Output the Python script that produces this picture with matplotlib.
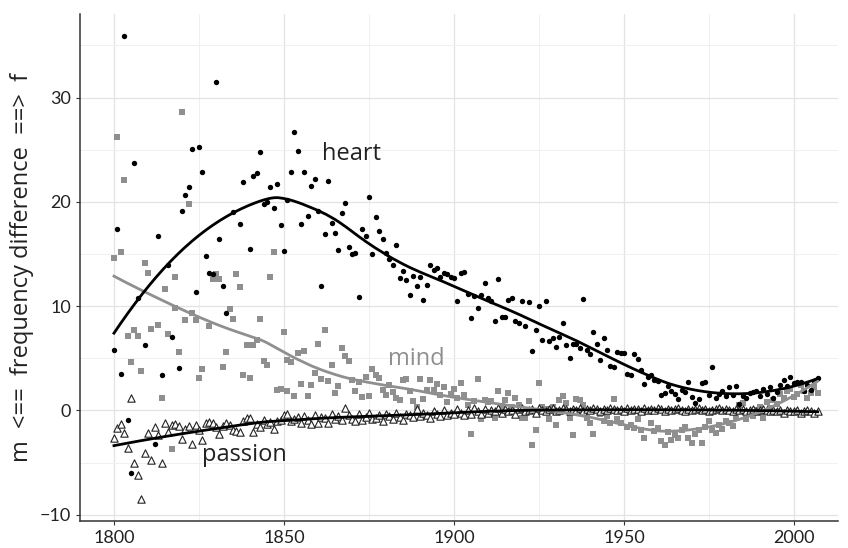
import numpy as np
import matplotlib
matplotlib.use("Agg")
import matplotlib.pyplot as plt
from matplotlib.ticker import MultipleLocator

# yearly values (some years have no visible dot)
heart_years = [1800, 1801, 1802, 1803, 1804, 1805, 1806, 1807, 1809, 1812, 1813, 1814, 1816, 1817, 1819,
               1820, 1821, 1822, 1823, 1824, 1825, 1826, 1827, 1828, 1829, 1830, 1831, 1832, 1833, 1835,
               1837, 1838, 1840, 1841, 1842, 1843, 1844, 1845, 1846, 1847, 1848, 1849, 1850, 1851, 1852,
               1853, 1854, 1855, 1856, 1857, 1858, 1859, 1860, 1861, 1862, 1863, 1864, 1865, 1866, 1867,
               1868, 1869, 1870, 1871, 1872, 1873, 1874, 1875, 1876, 1877, 1878, 1879, 1880, 1881, 1882,
               1883, 1884, 1885, 1886, 1887, 1888, 1889, 1890, 1891, 1892, 1893, 1894, 1895, 1896, 1897,
               1898, 1899, 1900, 1901, 1902, 1903, 1904, 1905, 1906, 1907, 1908, 1909, 1910, 1911, 1912,
               1913, 1914, 1915, 1916, 1917, 1918, 1919, 1920, 1921, 1922, 1923, 1924, 1925, 1926, 1927,
               1928, 1929, 1930, 1931, 1932, 1933, 1934, 1935, 1936, 1937, 1938, 1939, 1940, 1941, 1942,
               1943, 1944, 1945, 1946, 1947, 1948, 1949, 1950, 1951, 1952, 1953, 1954, 1955, 1956, 1957,
               1958, 1959, 1960, 1961, 1962, 1963, 1964, 1965, 1966, 1967, 1968, 1969, 1970, 1971, 1972,
               1973, 1974, 1975, 1976, 1977, 1978, 1979, 1980, 1981, 1982, 1983, 1984, 1985, 1986, 1987,
               1988, 1989, 1990, 1991, 1992, 1993, 1994, 1995, 1996, 1997, 1998, 1999, 2000, 2001, 2002,
               2003, 2004, 2005, 2006, 2007]
heart_vals = [5.8, 17.4, 3.5, 35.9, -0.9, -6.0, 23.7, 10.8, 6.3, -3.2, 16.7, 3.4, 13.9, 7.0, 4.1,
              19.1, 20.7, 21.4, 25.1, 11.4, 25.3, 22.9, 14.8, 13.2, 13.1, 31.5, 16.4, 11.9, 9.3, 19.0,
              17.9, 21.9, 15.5, 22.5, 22.8, 24.8, 19.8, 20.0, 21.4, 19.4, 21.7, 17.8, 15.3, 20.2, 22.9,
              26.7, 24.9, 17.9, 22.9, 18.6, 21.5, 22.2, 19.1, 11.9, 16.9, 22.0, 18.0, 17.0, 15.4, 18.9,
              19.9, 15.7, 15.0, 15.1, 10.9, 17.4, 16.7, 20.5, 15.0, 18.5, 17.2, 16.4, 15.1, 14.5, 13.9,
              15.9, 12.7, 13.4, 12.5, 11.1, 12.9, 11.9, 12.8, 10.6, 12.0, 13.9, 13.5, 13.7, 12.8, 13.2,
              13.1, 12.8, 12.7, 10.5, 13.2, 13.3, 11.2, 8.9, 11.0, 9.8, 11.1, 12.2, 10.8, 10.5, 8.6,
              12.6, 9.0, 9.0, 10.6, 10.8, 8.6, 8.4, 10.5, 8.1, 10.4, 5.7, 7.7, 10.0, 6.8, 10.5,
              6.7, 6.9, 6.1, 7.0, 8.4, 6.3, 5.0, 6.4, 6.4, 6.0, 10.7, 5.8, 5.4, 7.5, 6.4,
              4.8, 6.9, 5.8, 4.3, 4.2, 5.6, 5.5, 5.5, 3.5, 3.4, 5.4, 4.9, 3.9, 2.5, 3.2,
              3.4, 2.9, 2.8, 1.5, 1.7, 2.3, 1.9, 1.6, 1.1, 2.0, 1.8, 2.7, 1.3, 0.7, 1.1,
              2.6, 2.7, 1.5, 4.2, 1.2, 1.6, 1.9, 1.4, 2.2, 1.5, 2.3, 0.6, 1.4, 1.2, 1.7,
              1.8, 1.9, 1.4, 2.1, 1.6, 2.2, 1.2, 1.8, 2.4, 2.9, 2.3, 3.2, 2.6, 2.7, 2.7,
              1.9, 2.4, 2.0, 2.8, 3.1]

mind_years = [1800, 1801, 1802, 1803, 1804, 1805, 1806, 1807, 1808, 1809, 1810, 1811, 1813, 1814, 1815,
              1816, 1817, 1818, 1818, 1819, 1820, 1821, 1822, 1823, 1824, 1825, 1826, 1828, 1829, 1830,
              1831, 1832, 1833, 1834, 1835, 1836, 1837, 1838, 1839, 1840, 1841, 1842, 1843, 1844, 1845,
              1846, 1847, 1848, 1849, 1850, 1851, 1851, 1852, 1853, 1854, 1855, 1856, 1857, 1858, 1859,
              1860, 1861, 1862, 1863, 1864, 1865, 1866, 1867, 1868, 1869, 1870, 1871, 1872, 1873, 1874,
              1875, 1876, 1877, 1878, 1879, 1880, 1881, 1882, 1883, 1884, 1885, 1886, 1887, 1888, 1889,
              1890, 1891, 1892, 1893, 1894, 1895, 1896, 1897, 1898, 1899, 1900, 1901, 1902, 1903, 1904,
              1905, 1906, 1907, 1908, 1909, 1910, 1911, 1912, 1913, 1914, 1915, 1916, 1917, 1918, 1919,
              1920, 1921, 1922, 1923, 1924, 1925, 1926, 1927, 1928, 1929, 1930, 1931, 1932, 1933, 1934,
              1935, 1936, 1937, 1938, 1939, 1940, 1941, 1943, 1944, 1945, 1946, 1947, 1948, 1949, 1951,
              1952, 1953, 1954, 1955, 1956, 1958, 1959, 1960, 1961, 1962, 1963, 1964, 1965, 1966, 1967,
              1968, 1969, 1970, 1971, 1972, 1973, 1974, 1975, 1976, 1977, 1978, 1979, 1980, 1981, 1982,
              1983, 1984, 1985, 1986, 1987, 1988, 1989, 1990, 1991, 1992, 1993, 1994, 1995, 1996, 1997,
              1998, 1999, 2000, 2001, 2002, 2003, 2004, 2005, 2006, 2007]
mind_vals = [14.6, 26.2, 15.2, 22.1, 7.1, 4.6, 7.7, 7.1, 3.8, 14.1, 13.2, 7.8, 8.2, 1.2, 11.6,
             7.3, -3.7, 12.8, 9.8, 5.6, 28.6, 8.7, 19.8, 9.3, 8.7, 3.1, 4.0, 8.1, 12.6, 13.1,
             12.6, 4.2, 5.6, 9.7, 8.8, 13.1, 11.8, 3.4, 6.3, 3.1, 6.3, 6.8, 8.8, 4.7, 4.4,
             12.8, 15.2, 2.0, 2.1, 7.5, 4.8, 1.9, 4.6, 1.4, 5.5, 2.5, 5.7, 1.4, 2.4, 3.6,
             6.4, 3.0, 7.7, 2.8, 4.4, 1.7, 2.3, 6.0, 5.2, 4.7, 2.9, 1.9, 2.7, 1.3, 3.2,
             1.4, 4.0, 3.4, 3.1, 2.0, 1.5, 2.4, 1.8, 1.2, 1.0, 2.9, 3.0, 1.9, 0.9, 0.3,
             3.0, 1.1, 2.0, 2.9, 2.0, 2.5, 1.5, 2.2, 0.8, 1.6, 2.1, 1.2, 2.6, 1.5, 0.5,
             -2.3, 0.9, 3.0, -0.8, 1.0, 0.8, 0.9, -0.7, 1.9, 0.4, 1.0, 1.7, 0.3, 1.2, 0.5,
             -0.7, -0.7, 0.9, -3.3, -1.9, 2.6, 0.3, 0.1, -0.8, 0.3, -1.4, 1.0, 1.4, 0.7, -0.7,
             -2.4, 1.1, 1.0, 0.5, -0.7, -1.2, -2.3, -0.3, -1.0, -0.5, -1.2, 1.1, -0.8, -1.2, -1.6,
             -1.4, -1.7, -0.8, -1.9, -2.6, -1.2, -2.0, -1.7, -2.9, -3.3, -2.1, -2.8, -2.4, -2.6, -1.9,
             -1.6, -2.6, -3.1, -2.3, -1.9, -3.1, -1.6, -1.0, -1.9, -2.2, -1.4, -1.8, -1.0, -1.2, -1.5,
             -0.7, 0.5, 0.7, -0.8, -0.3, -0.5, 0.0, 0.3, -0.7, 0.8, 0.2, 1.0, 0.6, 1.6, 1.2,
             1.9, 2.1, 1.3, 1.6, 2.4, 1.9, 1.2, 1.7, 2.2, 1.7]

passion_years = list(range(1800, 2008))
passion_vals = [-2.6, -1.7, -1.3, -2.2, -3.6, 1.2, -5.0, -6.2, -8.5, -4.1,
                -2.2, -4.8, -1.6, -2.4, -5.0, -1.2, -2.1, -1.4, -1.3, -1.5,
                -2.7, -1.8, -1.5, -3.2, -1.4, -1.9, -2.8, -1.2, -1.1, -1.2,
                -1.6, -2.3, -1.5, -1.2, -1.4, -1.9, -2.0, -2.1, -1.0, -0.7,
                -0.7, -2.1, -1.3, -1.6, -0.9, -1.3, -1.1, -1.8, -1.0, -0.9,
                -0.4, -0.3, -1.0, -0.8, -0.6, -1.2, -0.5, -0.9, -1.3, -0.4,
                -1.2, -0.6, -0.7, -1.2, -0.3, -0.8, -0.5, -0.9, 0.2, -0.4,
                -0.8, -1.0, -0.3, -0.9, -0.6, -0.2, -0.8, -0.7, -0.4, -1.0,
                -0.3, -0.5, -0.8, -0.2, -0.6, -0.9, -0.3, -0.4, -0.6, 0.1,
                -0.5, -0.2, -0.4, -0.7, -0.1, -0.3, -0.5, 0.0, -0.4, -0.2,
                -0.3, 0.1, -0.2, -0.4, 0.0, -0.3, 0.2, -0.1, -0.3, 0.1,
                -0.2, 0.0, -0.1, 0.2, -0.2, 0.1, -0.1, 0.0, -0.3, 0.1,
                0.2, -0.1, 0.0, 0.1, -0.2, 0.2, 0.0, -0.1, 0.1, 0.2,
                -0.1, 0.0, 0.2, 0.1, -0.1, 0.1, 0.0, 0.2, -0.1, 0.1,
                0.0, 0.2, 0.1, -0.1, 0.1, 0.0, 0.2, 0.1, 0.0, 0.1,
                -0.1, 0.2, 0.0, 0.1, 0.1, -0.1, 0.2, 0.0, 0.1, 0.0,
                0.2, 0.1, -0.1, 0.1, 0.0, 0.1, 0.2, 0.0, -0.1, 0.1,
                0.0, 0.1, 0.2, 0.0, 0.1, -0.1, 0.0, 0.1, 0.2, 0.0,
                0.1, 0.0, -0.1, 0.1, 0.0, 0.1, -0.1, 0.0, 0.1, -0.1,
                0.0, 0.1, 0.0, -0.1, 0.0, -0.1, 0.0, -0.2, 0.0, -0.1,
                -0.1, 0.0, -0.2, -0.1, 0.0, -0.1, -0.2, -0.1]


def loess(x, y, span, grid):
    # local quadratic fit with tricube weights (like ggplot's geom_smooth)
    x = np.asarray(x, float)
    y = np.asarray(y, float)
    k = int(np.ceil(span * len(x)))
    out = []
    for g in grid:
        d = np.abs(x - g)
        h = np.sort(d)[k - 1]
        w = np.clip(1 - (d / h) ** 3, 0, None) ** 3
        c = np.polyfit(x - g, y, 2, w=np.sqrt(w))
        out.append(c[-1])
    return np.array(out)


gray = "#8f8f8f"
fig = plt.figure(figsize=(8.48, 5.48), dpi=100)
ax = fig.add_axes([0.0943, 0.0493, 0.894, 0.925])

ax.scatter(mind_years, mind_vals, marker="s", s=13, color=gray, linewidths=0, zorder=3)
ax.scatter(passion_years, passion_vals, marker="^", s=28, facecolor="white",
           edgecolor="#222222", linewidths=0.8, zorder=4)
ax.scatter(heart_years, heart_vals, marker="o", s=15, color="black", linewidths=0, zorder=5)

for yrs, vals, col, sp in [(mind_years, mind_vals, gray, 0.45),
                           (passion_years, passion_vals, "black", 0.45),
                           (heart_years, heart_vals, "black", 0.45)]:
    grid = np.linspace(min(yrs), max(yrs), 300)
    ax.plot(grid, loess(yrs, vals, sp, grid), color=col, lw=2, zorder=6)

lab_font = ["Open Sans", "DejaVu Sans"]
ax.text(1870, 24.6, "heart", fontsize=17, color="#222222", ha="center", va="center", family=lab_font)
ax.text(1889, 4.9, "mind", fontsize=17, color=gray, ha="center", va="center", family=lab_font)
ax.text(1838.5, -4.3, "passion", fontsize=17, color="#222222", ha="center", va="center", family=lab_font)

ax.set_xlim(1790, 2013)
ax.set_ylim(-10.6, 38)
ax.xaxis.set_major_locator(MultipleLocator(50))
ax.xaxis.set_minor_locator(MultipleLocator(25))
ax.yaxis.set_major_locator(MultipleLocator(10))
ax.yaxis.set_minor_locator(MultipleLocator(5))
ax.grid(which="major", color="#e3e3e3", lw=0.9)
ax.grid(which="minor", color="#f0f0f0", lw=0.7)
ax.set_axisbelow(True)

for s in ["top", "right"]:
    ax.spines[s].set_visible(False)
for s in ["left", "bottom"]:
    ax.spines[s].set_color("#333333")
    ax.spines[s].set_linewidth(1.1)

ax.tick_params(which="major", length=3, color="#333333", labelsize=13, labelcolor="#222222")
ax.tick_params(which="minor", length=0)
for t in ax.get_xticklabels() + ax.get_yticklabels():
    t.set_family(["Lato", "DejaVu Sans"])

ax.set_ylabel("m  <==  frequency difference  ==>  f", fontsize=17, color="#222222",
              family=lab_font, labelpad=4)

plt.savefig("out.png", dpi=100)
